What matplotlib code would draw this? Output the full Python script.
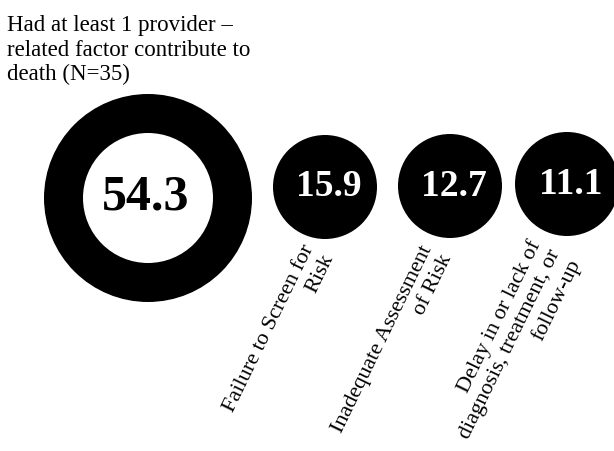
import matplotlib.pyplot as plt
from matplotlib.patches import Circle

# percentages of deaths by provider-related factor
overall_label = "Had at least 1 provider \u2013\nrelated factor contribute to\ndeath (N=35)"
overall_value = 54.3
factors = ["Failure to Screen for\nRisk",
           "Inadequate Assessment\nof Risk",
           "Delay in or lack of\ndiagnosis, treatment, or\nfollow-up"]
factor_values = [15.9, 12.7, 11.1]

plt.rcParams["font.family"] = ["Liberation Serif", "DejaVu Serif"]

fig = plt.figure(figsize=(6.14, 4.51), dpi=100)
ax = fig.add_axes([0, 0, 1, 1])
ax.set_xlim(0, 614)
ax.set_ylim(451, 0)
ax.set_aspect("equal")
ax.axis("off")

# big ring for the overall share
ax.add_patch(Circle((148, 198), 104, color="black", lw=0))
ax.add_patch(Circle((148, 198), 65, color="white", lw=0))
ax.text(146, 198, f"{overall_value:.1f}", fontsize=36, fontweight="bold",
        ha="center", va="center", color="black")

ax.text(7, 15, overall_label, fontsize=16.5, ha="left", va="top", linespacing=1.22)

# one filled circle per factor, label rotated underneath
centers = [(325, 187), (450, 186), (567, 184)]
label_x = [319, 438, 556]
for (cx, cy), lx, name, val in zip(centers, label_x, factors, factor_values):
    ax.add_patch(Circle((cx, cy), 52, color="black", lw=0))
    ax.text(cx + 4, cy, f"{val:.1f}", fontsize=27, fontweight="bold",
            ha="center", va="center", color="white")
    ax.text(lx, 251, name, fontsize=16, rotation=64, rotation_mode="anchor",
            ha="right", va="center", multialignment="right", linespacing=1.2)

fig.savefig("out.png", dpi=100)
